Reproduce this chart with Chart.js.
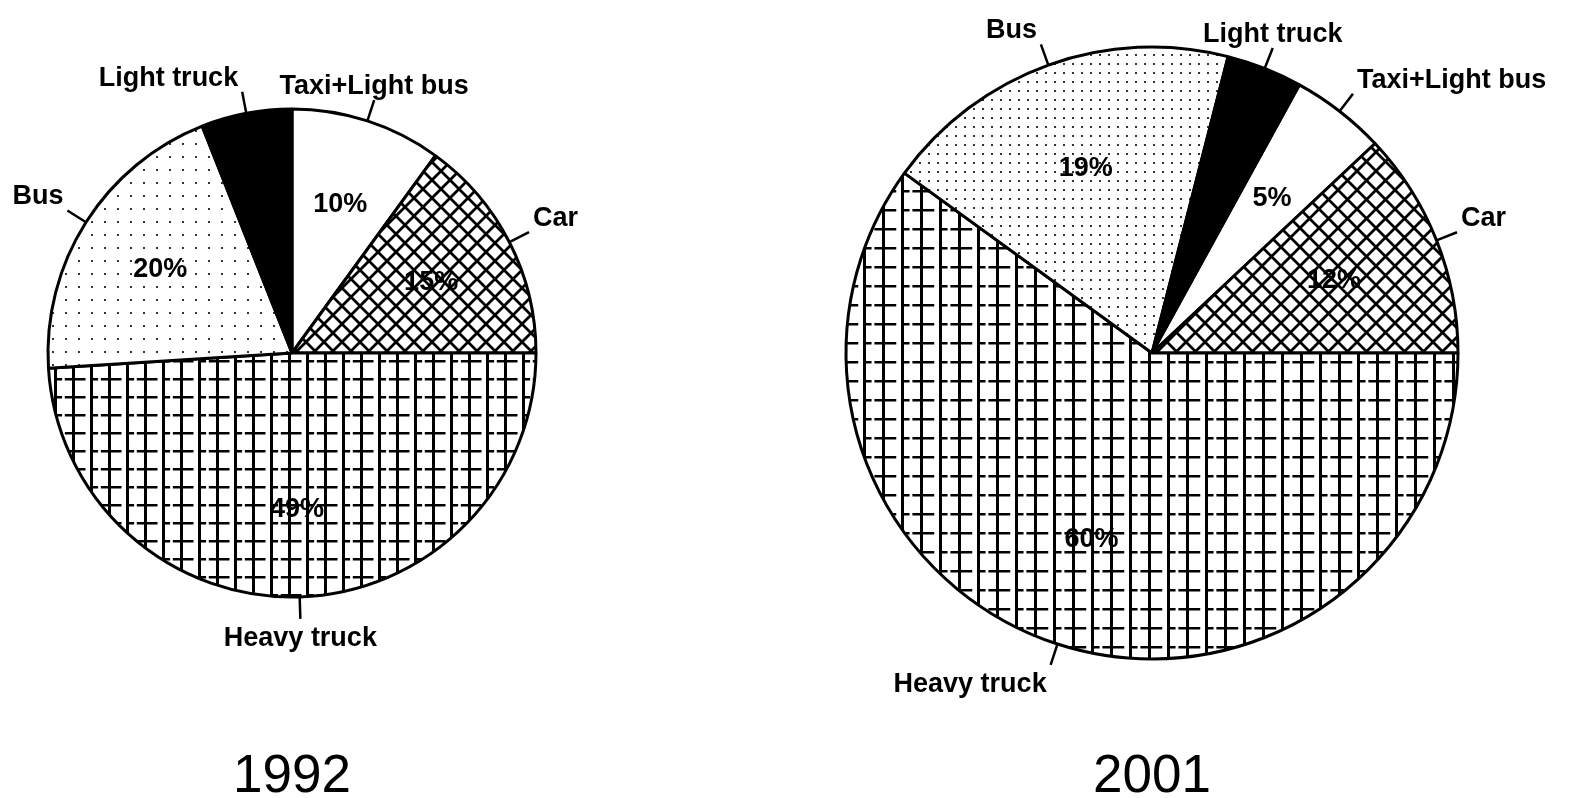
<!DOCTYPE html>
<html>
<head>
<meta charset="utf-8">
<script src="https://cdn.jsdelivr.net/npm/chart.js@4.4.1/dist/chart.umd.min.js"></script>
<style>
  html, body { margin: 0; padding: 0; background: #fff; }
  body { width: 1576px; height: 798px; position: relative; overflow: hidden; }
  canvas { position: absolute; top: 0; }
  #pie1992 { left: 0px; }
  #pie2001 { left: 730px; }
</style>
</head>
<body>
<canvas id="pie1992" width="584" height="798"></canvas>
<canvas id="pie2001" width="844" height="798"></canvas>
<script>
// Categories (clockwise, starting from the top of the 1992 pie)
const categories = ['Taxi+Light bus', 'Car', 'Heavy truck', 'Bus', 'Light truck'];

// Shares in percent
const values1992 = [10, 15, 49, 20, 6];
const values2001 = [5, 12, 60, 19, 4];

const years = ['1992', '2001'];

// ---- fill patterns (scanned-print look) ----
function makeTile(w, h, draw) {
    const c = document.createElement('canvas');
    c.width = w;
    c.height = h;
    const g = c.getContext('2d');
    g.fillStyle = '#fff';
    g.fillRect(0, 0, w, h);
    draw(g);
    return c;
}

function toPattern(tile) {
    return document.createElement('canvas').getContext('2d').createPattern(tile, 'repeat');
}

function crossHatch(size) {
    return toPattern(makeTile(size, size, g => {
        g.strokeStyle = '#000';
        g.lineWidth = 2.8;
        g.beginPath();
        g.moveTo(-2, -2); g.lineTo(size + 2, size + 2);
        g.moveTo(size + 2, -2); g.lineTo(-2, size + 2);
        g.stroke();
    }));
}

function gridHatch(size) {
    return toPattern(makeTile(size * 2, size, g => {
        g.fillStyle = '#000';
        // solid verticals
        g.fillRect(0, 0, 3, size);
        g.fillRect(size, 0, 3, size);
        // broken horizontals
        g.fillRect(0, 0, size * 0.75, 2.5);
        g.fillRect(size, 0, size * 0.45, 2.5);
        g.fillRect(size * 1.6, 0, size * 0.4, 2.5);
    }));
}

function stipple(size) {
    return toPattern(makeTile(size, size, g => {
        g.fillStyle = '#333';
        g.fillRect(0, 0, 2, 2);
    }));
}

function fills(step, dot) {
    return ['#ffffff', crossHatch(step), gridHatch(step), stipple(dot), '#000000'];
}

// ---- labels drawn from the arcs' own geometry ----
const pieLabels = {
    id: 'pieLabels',
    afterDatasetsDraw(chart, args, opts) {
        const ctx = chart.ctx;
        const meta = chart.getDatasetMeta(0);
        const data = chart.data.datasets[0].data;
        ctx.save();
        ctx.fillStyle = '#000';
        ctx.strokeStyle = '#000';
        ctx.lineWidth = 2.5;
        ctx.font = 'bold 27px "Liberation Sans", Arial, sans-serif';

        meta.data.forEach((arc, i) => {
            const p = arc.getProps(['x', 'y', 'startAngle', 'endAngle', 'outerRadius'], true);
            const mid = (p.startAngle + p.endAngle) / 2;
            const cos = Math.cos(mid), sin = Math.sin(mid);

            // percentage inside the slice (none for the black wedge)
            if (chart.data.labels[i] !== 'Light truck') {
                const r = p.outerRadius * 0.64;
                ctx.textAlign = 'center';
                ctx.textBaseline = 'middle';
                ctx.fillText(data[i] + '%', p.x + cos * r, p.y + sin * r);
            }

            // leader tick
            const r1 = p.outerRadius + 22;
            const ex = p.x + cos * r1, ey = p.y + sin * r1;
            ctx.beginPath();
            ctx.moveTo(p.x + cos * p.outerRadius, p.y + sin * p.outerRadius);
            ctx.lineTo(ex, ey);
            ctx.stroke();

            // category name
            const align = opts.align[i];
            let tx = ex;
            if (align === 'left') tx = ex + 4;
            if (align === 'right') tx = ex - 4;
            ctx.textAlign = align;
            if (sin < 0) {
                ctx.textBaseline = 'alphabetic';
                ctx.fillText(chart.data.labels[i], tx, ey - 6);
            } else {
                ctx.textBaseline = 'top';
                ctx.fillText(chart.data.labels[i], tx, ey + 6);
            }
        });

        // year underneath
        const c = meta.data[0];
        ctx.font = '53px "Liberation Sans", Arial, sans-serif';
        ctx.textAlign = 'center';
        ctx.textBaseline = 'alphabetic';
        ctx.fillText(opts.year, c.x, 792);
        ctx.restore();
    }
};

function makePie(id, values, year, radius, step, dot, align) {
    const total = values.reduce((a, b) => a + b, 0);
    // heavy truck always begins at 3 o'clock
    const rotation = 90 - 360 * (values[0] + values[1]) / total;
    return new Chart(document.getElementById(id), {
        type: 'pie',
        data: {
            labels: categories,
            datasets: [{
                data: values,
                backgroundColor: fills(step, dot),
                borderColor: '#000',
                borderWidth: 3
            }]
        },
        options: {
            responsive: false,
            animation: false,
            rotation: rotation,
            radius: radius,
            layout: { padding: { top: 0, bottom: 92, left: 0, right: 0 } },
            plugins: {
                legend: { display: false },
                tooltip: { enabled: false },
                pieLabels: { align: align, year: year }
            }
        },
        plugins: [pieLabels]
    });
}

makePie('pie1992', values1992, years[0], 244, 18, 13, ['center', 'left', 'center', 'right', 'right']);
makePie('pie2001', values2001, years[1], 306, 19, 9, ['left', 'left', 'right', 'right', 'center']);
</script>
</body>
</html>
